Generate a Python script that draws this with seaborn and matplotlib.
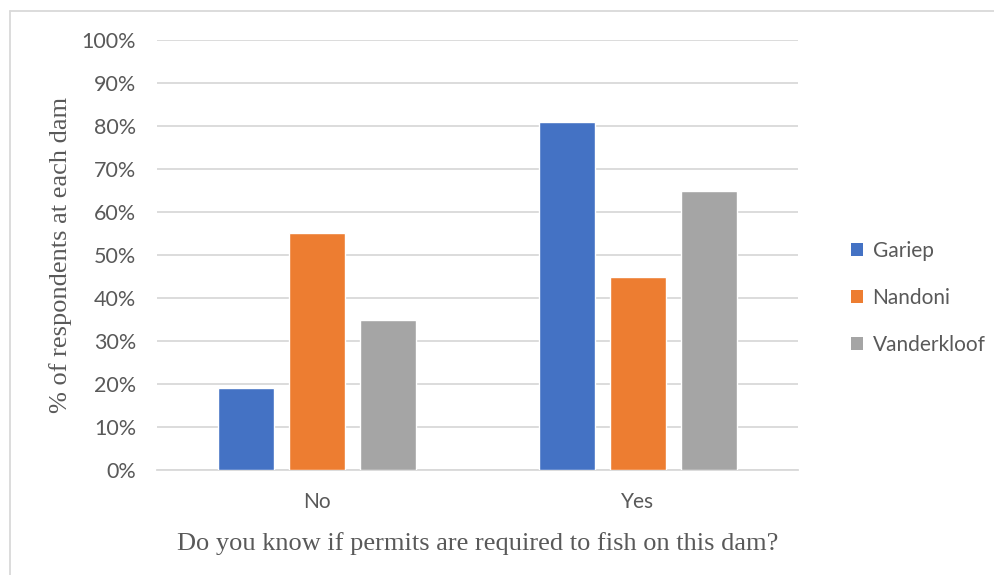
import matplotlib
matplotlib.use("Agg")
import matplotlib.pyplot as plt
import seaborn as sns
import pandas as pd
from matplotlib.lines import Line2D
from matplotlib.patches import Patch

# Survey responses per dam (share of respondents)
answers = ["No", "Yes"]
dams = ["Gariep", "Nandoni", "Vanderkloof"]
gariep = [0.19, 0.81]
nandoni = [0.55, 0.45]
vanderkloof = [0.35, 0.65]
y_ticks = [0.0, 0.1, 0.2, 0.3, 0.4, 0.5, 0.6, 0.7, 0.8, 0.9, 1.0]
colors = ["#4472C4", "#ED7D31", "#A5A5A5"]

df = pd.DataFrame({
    "answer": answers * 3,
    "dam": [d for d in dams for _ in answers],
    "share": gariep + nandoni + vanderkloof,
})

sns.set_theme(style="white")
plt.rcParams["font.family"] = ["Lato", "DejaVu Sans"]

fig = plt.figure(figsize=(9.94, 5.75), dpi=100)
ax = fig.add_axes([157 / 994, 1 - 470 / 575, 641 / 994, 430 / 575])

sns.barplot(data=df, x="answer", y="share", hue="dam", order=answers,
            hue_order=dams, palette=colors, width=0.665, gap=0.21,
            saturation=1, errorbar=None, ax=ax, legend=False, zorder=3)

ax.set_xlim(-0.5, 1.5)
ax.set_ylim(0, 1.0)
ax.set_yticks(y_ticks)
ax.set_yticklabels([f"{int(round(t * 100))}%" for t in y_ticks])
ax.yaxis.grid(True, color="#D9D9D9", linewidth=1.3, zorder=0)
ax.xaxis.grid(False)
for s in ["top", "right", "left"]:
    ax.spines[s].set_visible(False)
ax.spines["bottom"].set_color("#D9D9D9")
ax.spines["bottom"].set_linewidth(1.3)
ax.tick_params(axis="y", length=0, pad=15, labelsize=15.5, labelcolor="#595959")
ax.tick_params(axis="x", length=0, pad=16, labelsize=15, labelcolor="#595959")

ax.set_xlabel("Do you know if permits are required to fish on this dam?",
              family=["Liberation Serif", "DejaVu Serif"], fontsize=19,
              color="#595959", labelpad=14)
ax.set_ylabel("% of respondents at each dam",
              family=["Liberation Serif", "DejaVu Serif"], fontsize=19,
              color="#595959", labelpad=7)

handles = [Patch(facecolor=c, edgecolor="none") for c in colors]
leg = fig.legend(handles, dams, loc="center left",
                 bbox_to_anchor=(832 / 994, 1 - 298 / 575), frameon=False,
                 fontsize=15, labelcolor="#595959", handlelength=0.6,
                 handleheight=0.6, handletextpad=0.45, labelspacing=1.3)

# chart frame
fig.add_artist(Line2D([10 / 994, 10 / 994], [0, 1 - 11 / 575],
                      color="#D9D9D9", linewidth=1.3, transform=fig.transFigure))
fig.add_artist(Line2D([10 / 994, 1], [1 - 11 / 575, 1 - 11 / 575],
                      color="#D9D9D9", linewidth=1.3, transform=fig.transFigure))

fig.savefig("out.png", dpi=100)
